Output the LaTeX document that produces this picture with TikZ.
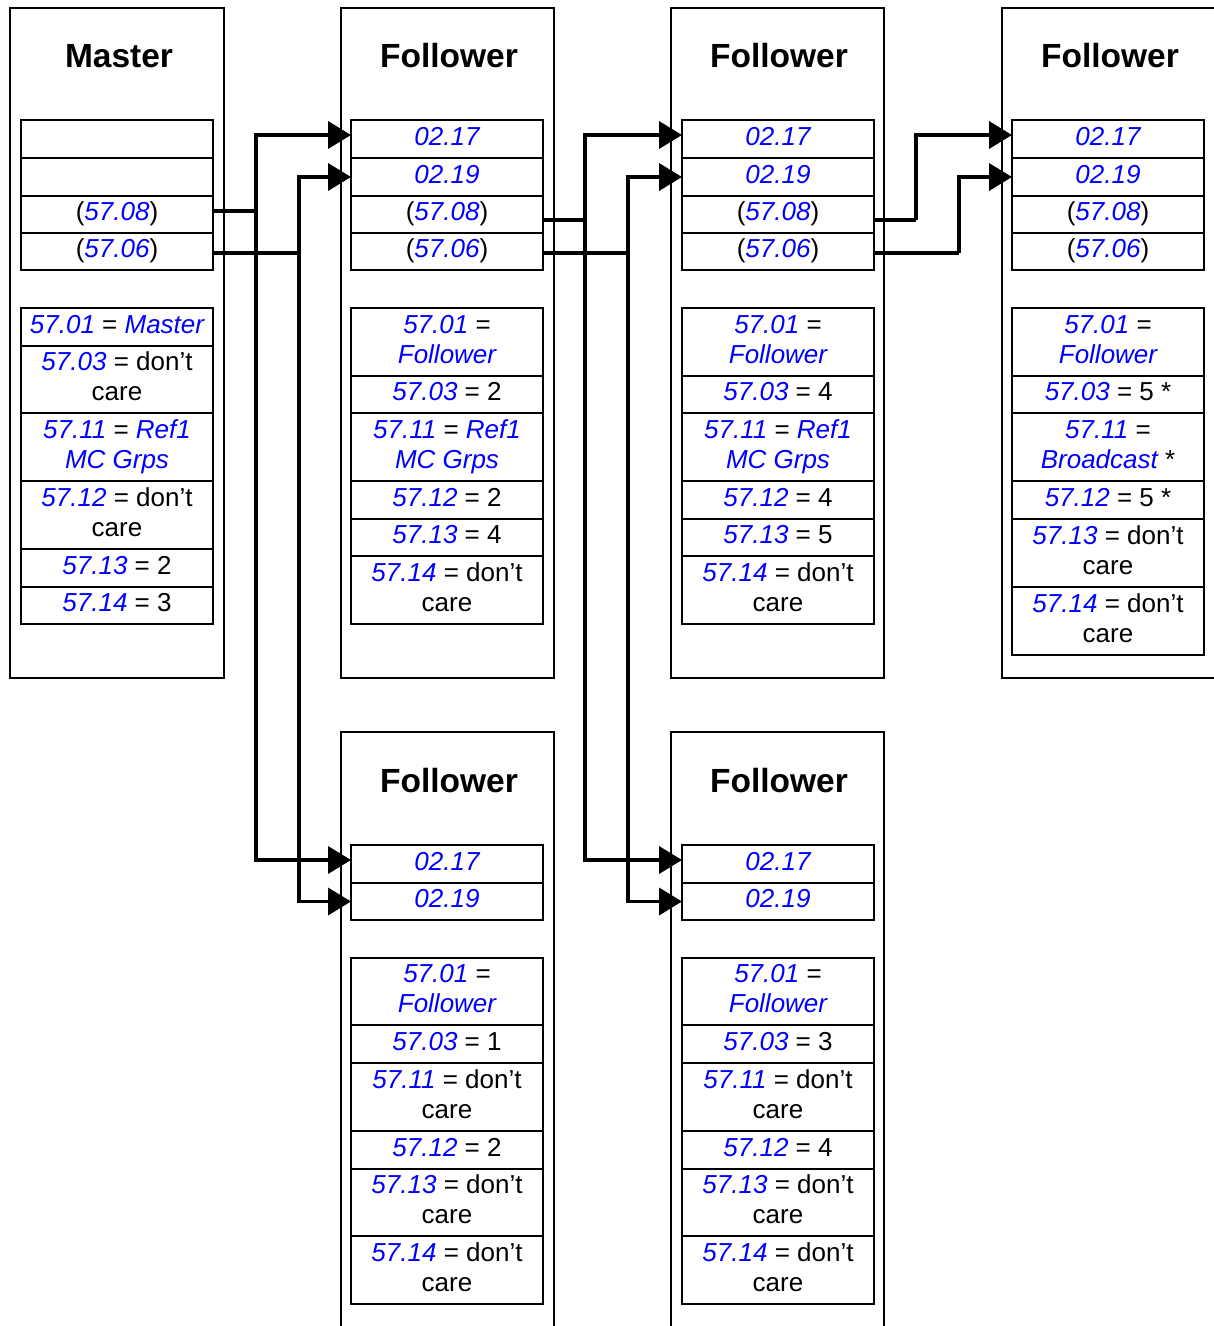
\documentclass[tikz,border=0pt]{standalone}
\usepackage{fontspec}
\setmainfont{Liberation Sans}
\usetikzlibrary{arrows.meta}
\definecolor{pblue}{RGB}{0,0,255}
\newcommand\pv[1]{{\color{pblue}\itshape #1}}
\newcommand\bodyfs{\fontsize{26}{30}\selectfont}
\newcommand\hdrfs{\fontsize{33.5}{40}\selectfont\bfseries}
\newcommand\mkcell[5]{\node[cell, minimum height={(#4-#3)*1pt}] (#1) at (#2,#3) {\begin{tabular}{@{}c@{}}#5\end{tabular}};}
\newcommand\toptab[6]{%
  \mkcell{#1-t1}{#2}{120}{158}{#3}
  \mkcell{#1-t2}{#2}{158}{196}{#4}
  \mkcell{#1-t3}{#2}{196}{233}{#5}
  \mkcell{#1-t4}{#2}{233}{270}{#6}
  \draw[tabframe] (#1-t1.north west) rectangle (#1-t4.south east);}
\tikzset{
  cell/.style={draw, line width=1.2pt, inner sep=0pt, outer sep=0pt, minimum width=192pt,
    anchor=north west, align=center, font=\bodyfs, text=black},
  tabframe/.style={line width=2.2pt},
  drvbox/.style={line width=2pt},
  hdr/.style={font=\hdrfs, inner sep=0pt},
  conn/.style={line width=3.8pt},
  arr/.style={-{Triangle[length=23pt,width=27pt]}}
}
\begin{document}
\begin{tikzpicture}[x=1pt,y=-1pt]
\useasboundingbox (0,0) rectangle (1214,1326);
% drive boxes
\draw[drvbox] (10,8) rectangle (224,678);
\draw[drvbox] (341,8) rectangle (554,678);
\draw[drvbox] (671,8) rectangle (884,678);
\draw[drvbox] (1002,8) rectangle (1218,678);
\draw[drvbox] (341,1332) -- (341,732) -- (554,732) -- (554,1332);
\draw[drvbox] (671,1332) -- (671,732) -- (884,732) -- (884,1332);
% headers
\node[hdr] (m-h) at (119,56) {Master};
\node[hdr] (fa-h) at (449,56) {Follower};
\node[hdr] (fb-h) at (779,56) {Follower};
\node[hdr] (fc-h) at (1110,56) {Follower};
\node[hdr] (ba-h) at (449,781) {Follower};
\node[hdr] (bb-h) at (779,781) {Follower};
% top tables
\toptab{m}{21}{}{}{(\pv{57.08})}{(\pv{57.06})}
\toptab{fa}{351}{\pv{02.17}}{\pv{02.19}}{(\pv{57.08})}{(\pv{57.06})}
\toptab{fb}{682}{\pv{02.17}}{\pv{02.19}}{(\pv{57.08})}{(\pv{57.06})}
\toptab{fc}{1012}{\pv{02.17}}{\pv{02.19}}{(\pv{57.08})}{(\pv{57.06})}
\mkcell{ba-t1}{351}{845}{883}{\pv{02.17}}
\mkcell{ba-t2}{351}{883}{920}{\pv{02.19}}
\draw[tabframe] (ba-t1.north west) rectangle (ba-t2.south east);
\mkcell{bb-t1}{682}{845}{883}{\pv{02.17}}
\mkcell{bb-t2}{682}{883}{920}{\pv{02.19}}
\draw[tabframe] (bb-t1.north west) rectangle (bb-t2.south east);
% master params
\mkcell{m-p1}{21}{308}{346}{\pv{57.01} = \pv{Master}}
\mkcell{m-p2}{21}{346}{413}{\pv{57.03} = don’t\\care}
\mkcell{m-p3}{21}{413}{481}{\pv{57.11} = \pv{Ref1}\\\pv{MC Grps}}
\mkcell{m-p4}{21}{481}{549}{\pv{57.12} = don’t\\care}
\mkcell{m-p5}{21}{549}{587}{\pv{57.13} = 2}
\mkcell{m-p6}{21}{587}{624}{\pv{57.14} = 3}
\draw[tabframe] (m-p1.north west) rectangle (m-p6.south east);
% follower 1
\mkcell{fa-p1}{351}{308}{376}{\pv{57.01} =\\\pv{Follower}}
\mkcell{fa-p2}{351}{376}{413}{\pv{57.03} = 2}
\mkcell{fa-p3}{351}{413}{481}{\pv{57.11} = \pv{Ref1}\\\pv{MC Grps}}
\mkcell{fa-p4}{351}{481}{519}{\pv{57.12} = 2}
\mkcell{fa-p5}{351}{519}{556}{\pv{57.13} = 4}
\mkcell{fa-p6}{351}{556}{624}{\pv{57.14} = don’t\\care}
\draw[tabframe] (fa-p1.north west) rectangle (fa-p6.south east);
% follower 2
\mkcell{fb-p1}{682}{308}{376}{\pv{57.01} =\\\pv{Follower}}
\mkcell{fb-p2}{682}{376}{413}{\pv{57.03} = 4}
\mkcell{fb-p3}{682}{413}{481}{\pv{57.11} = \pv{Ref1}\\\pv{MC Grps}}
\mkcell{fb-p4}{682}{481}{519}{\pv{57.12} = 4}
\mkcell{fb-p5}{682}{519}{556}{\pv{57.13} = 5}
\mkcell{fb-p6}{682}{556}{624}{\pv{57.14} = don’t\\care}
\draw[tabframe] (fb-p1.north west) rectangle (fb-p6.south east);
% follower 3
\mkcell{fc-p1}{1012}{308}{376}{\pv{57.01} =\\\pv{Follower}}
\mkcell{fc-p2}{1012}{376}{413}{\pv{57.03} = 5 *}
\mkcell{fc-p3}{1012}{413}{481}{\pv{57.11} =\\\pv{Broadcast} *}
\mkcell{fc-p4}{1012}{481}{519}{\pv{57.12} = 5 *}
\mkcell{fc-p5}{1012}{519}{587}{\pv{57.13} = don’t\\care}
\mkcell{fc-p6}{1012}{587}{655}{\pv{57.14} = don’t\\care}
\draw[tabframe] (fc-p1.north west) rectangle (fc-p6.south east);
% bottom follower A
\mkcell{ba-p1}{351}{958}{1025}{\pv{57.01} =\\\pv{Follower}}
\mkcell{ba-p2}{351}{1025}{1063}{\pv{57.03} = 1}
\mkcell{ba-p3}{351}{1063}{1131}{\pv{57.11} = don’t\\care}
\mkcell{ba-p4}{351}{1131}{1169}{\pv{57.12} = 2}
\mkcell{ba-p5}{351}{1169}{1236}{\pv{57.13} = don’t\\care}
\mkcell{ba-p6}{351}{1236}{1304}{\pv{57.14} = don’t\\care}
\draw[tabframe] (ba-p1.north west) rectangle (ba-p6.south east);
% bottom follower B
\mkcell{bb-p1}{682}{958}{1025}{\pv{57.01} =\\\pv{Follower}}
\mkcell{bb-p2}{682}{1025}{1063}{\pv{57.03} = 3}
\mkcell{bb-p3}{682}{1063}{1131}{\pv{57.11} = don’t\\care}
\mkcell{bb-p4}{682}{1131}{1169}{\pv{57.12} = 4}
\mkcell{bb-p5}{682}{1169}{1236}{\pv{57.13} = don’t\\care}
\mkcell{bb-p6}{682}{1236}{1304}{\pv{57.14} = don’t\\care}
\draw[tabframe] (bb-p1.north west) rectangle (bb-p6.south east);
% connectors from master
\coordinate (mj8) at (256,211);
\coordinate (mj6) at (299,253);
\draw[conn] (m-t3.east |- mj8) -- (mj8);
\draw[conn] (m-t4.east |- mj6) -- (mj6);
\draw[conn,arr] (mj8) |- ([yshift=4pt]fa-t1.west);
\draw[conn,arr] (mj8) |- ([yshift=4pt]ba-t1.west);
\draw[conn,arr] (mj6) |- (fa-t2.west);
\draw[conn,arr] (mj6) |- (ba-t2.west);
% connectors from follower 1
\coordinate (aj8) at (585,220);
\coordinate (aj6) at (628,253);
\draw[conn] (fa-t3.east |- aj8) -- (aj8);
\draw[conn] (fa-t4.east |- aj6) -- (aj6);
\draw[conn,arr] (aj8) |- ([yshift=4pt]fb-t1.west);
\draw[conn,arr] (aj8) |- ([yshift=4pt]bb-t1.west);
\draw[conn,arr] (aj6) |- (fb-t2.west);
\draw[conn,arr] (aj6) |- (bb-t2.west);
% connectors from follower 2
\coordinate (bj8) at (916,220);
\coordinate (bj6) at (959,253);
\draw[conn] (fb-t3.east |- bj8) -- (bj8);
\draw[conn] (fb-t4.east |- bj6) -- (bj6);
\draw[conn,arr] (bj8) |- ([yshift=4pt]fc-t1.west);
\draw[conn,arr] (bj6) |- (fc-t2.west);
\end{tikzpicture}
\end{document}
